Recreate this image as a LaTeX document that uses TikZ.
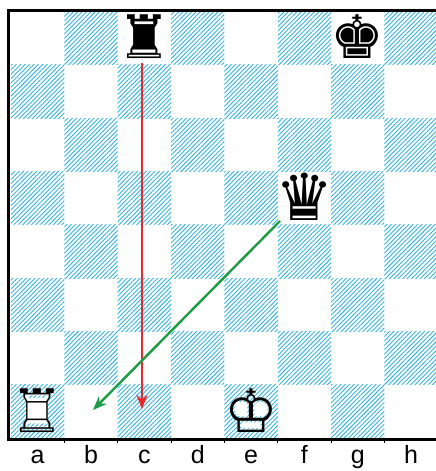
\documentclass[tikz,border=0pt]{standalone}
\usepackage{fontspec}
\setmainfont{Liberation Sans}
\newfontfamily\chessfont{DejaVu Sans}
\usetikzlibrary{patterns.meta,arrows.meta}
\definecolor{hatch}{RGB}{51,181,229}
\definecolor{movered}{RGB}{235,40,44}
\definecolor{movegreen}{RGB}{30,155,70}
\tikzset{
  darksq/.style={pattern={Lines[angle=45,distance=3.1pt,line width=0.9pt]},pattern color=hatch},
  % glyph sits on its baseline; the box is trimmed to the drawn figure
  piece/.style={font=\chessfont\fontsize{60}{60}\selectfont, inner sep=0pt,
    anchor=base, text height=40pt, text depth=0pt, yshift=-20.8pt},
  % larger glyph: shifts add up, so only the extra drop is given here
  bigpiece/.style={piece, font=\chessfont\fontsize{65}{65}\selectfont,
    text height=43pt, yshift=-1.7pt},
  move/.style={line width=2.4pt, -{Stealth[length=14pt,width=11pt]}},
  filelabel/.style={font=\fontsize{25}{29}\selectfont, anchor=base, inner sep=0pt},
  frame/.style={line width=3pt}
}
\begin{document}
\begin{tikzpicture}[x=1pt,y=-1pt]
\useasboundingbox (0,0) rectangle (436,471);
\fill[white] (0,0) rectangle (436,471);
\def\sq{53.35}
\def\xo{11}
\def\yo{11.5}
% hatched dark squares (a1 dark)
\foreach \f in {0,...,7}{
  \foreach \r in {0,...,7}{
    \pgfmathtruncatemacro\parity{mod(\f+\r,2)}
    \ifnum\parity=1
      \fill[darksq] (\xo+\f*\sq,\yo+\r*\sq) rectangle ++(\sq,\sq);
    \fi
  }
}
% frame: top, left and bottom edges
\draw[frame] (440,10) -- (8,10) -- (8,439.5) -- (440,439.5);
\foreach \k in {1,...,7}
  \draw[line width=1pt] (\xo+\k*\sq,439.5) -- ++(0,3);
% square centres used by the pieces and moves
\foreach \f/\fl in {0/a,1/b,2/c,3/d,4/e,5/f,6/g,7/h}{
  \foreach \r in {1,...,8}{
    \coordinate (\fl\r) at (\xo+\f*\sq+0.5*\sq,\yo+8*\sq-\r*\sq+0.5*\sq);
  }
  \node[filelabel] (lbl\fl) at (\xo+\f*\sq+0.5*\sq,463) {\fl};
}
% black pieces
\node[piece] (bR) at (c8) {♜};
\node[piece] (bK) at (g8) {♚};
\node[bigpiece] (bQ) at (f5) {♛};
% white pieces: white silhouette under the outline glyph
\node[piece,text=white] (wRfill) at (a1) {♜};
\node[piece] (wR) at (a1) {♖};
\node[piece,text=white] (wKfill) at (e1) {♚};
\node[piece] (wK) at (e1) {♔};
% moves
\coordinate (redstart) at (142,63);
\coordinate (redend) at (142,409);
\coordinate (greenstart) at (280,221);
\coordinate (greenend) at (93,410);
\draw[move,movered] (redstart) -- (redend);
\draw[move,movegreen] (greenstart) -- (greenend);
\end{tikzpicture}
\end{document}
